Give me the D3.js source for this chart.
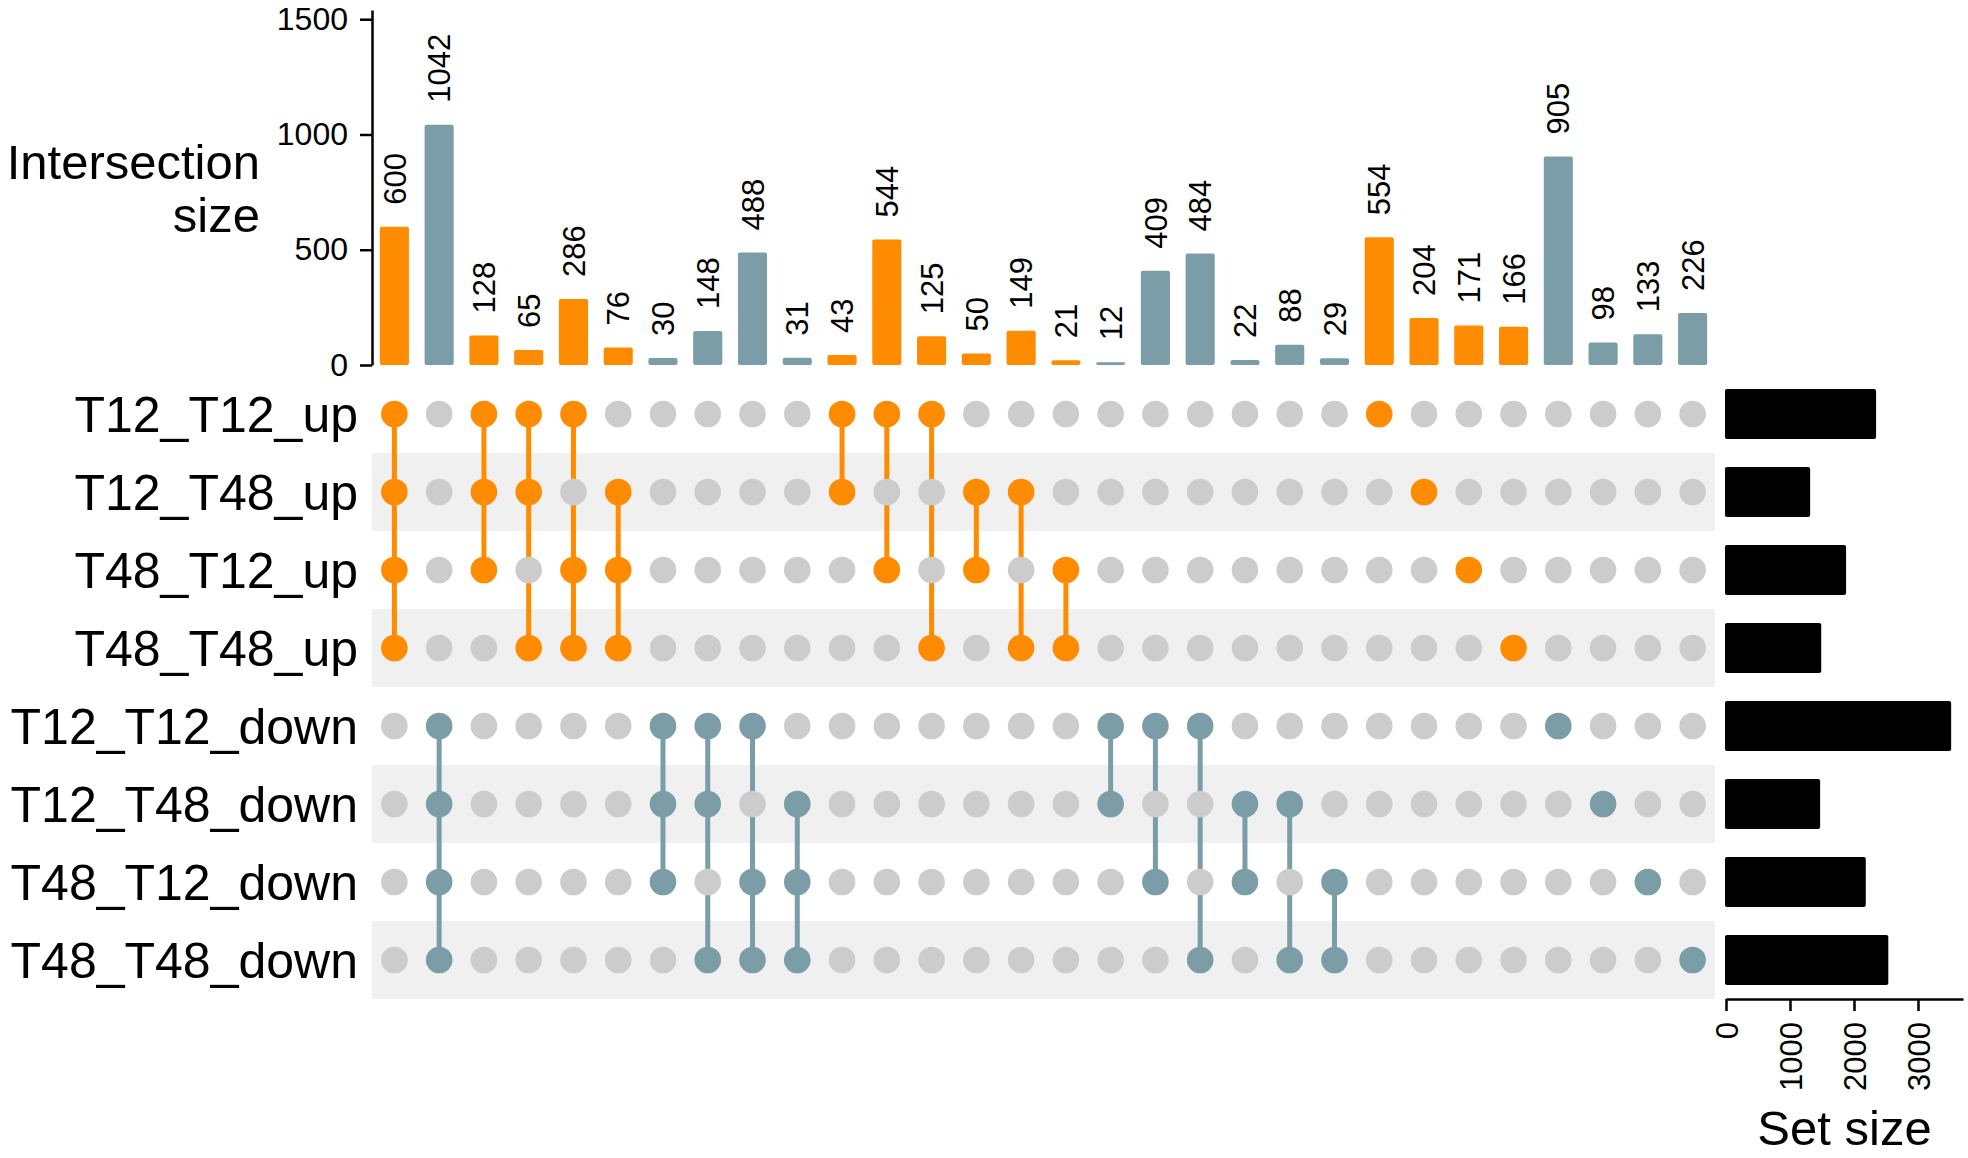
<!DOCTYPE html>
<html>
<head>
<meta charset="utf-8">
<script src="https://cdn.jsdelivr.net/npm/d3@7"></script>
<style>
  body { margin: 0; background: #fff; }
  text { font-family: "Liberation Sans", Arial, sans-serif; }
</style>
</head>
<body>
<div id="vis"></div>
<script>
// upset plot, 8 sets and 30 intersections
const FRAME_WIDTH = 1968;
const FRAME_HEIGHT = 1158;

const sets = ["T12_T12_up", "T12_T48_up", "T48_T12_up", "T48_T48_up",
              "T12_T12_down", "T12_T48_down", "T48_T12_down", "T48_T48_down"];
const setDirection = ["up", "up", "up", "up", "down", "down", "down", "down"];
const setSizes = [2345, 1315, 1876, 1488, 3518, 1471, 2184, 2536];

const intersectionSizes = [600, 1042, 128, 65, 286, 76, 30, 148, 488, 31,
                           43, 544, 125, 50, 149, 21, 12, 409, 484, 22,
                           88, 29, 554, 204, 171, 166, 905, 98, 133, 226];
// which sets (index into sets) are in each intersection
const intersectionMembers = [[0,1,2,3], [4,5,6,7], [0,1,2], [0,1,3], [0,2,3], [1,2,3],
                             [4,5,6], [4,5,7], [4,6,7], [5,6,7],
                             [0,1], [0,2], [0,3], [1,2], [1,3], [2,3],
                             [4,5], [4,6], [4,7], [5,6], [5,7], [6,7],
                             [0], [1], [2], [3], [4], [5], [6], [7]];

const sizeTicks = [0, 500, 1000, 1500];
const setTicks = [0, 1000, 2000, 3000];

const COLORS = {up: "#FF8C00", down: "#7A9DA7", off: "#CCCCCC", band: "#F0F0F0"};

// layout (pixels)
const MATRIX = {left: 372, right: 1715, top: 375, rowStep: 78};
const BARS = {top: 10, bottom: 365};
const SETBARS = {left: 1726, right: 1963, axisY: 999};

const FRAME = d3.select("#vis")
  .append("svg")
  .attr("width", FRAME_WIDTH)
  .attr("height", FRAME_HEIGHT);

const cols = d3.range(intersectionSizes.length);

const X_SCALE = d3.scaleBand()
  .domain(cols)
  .range([MATRIX.left, MATRIX.right])
  .paddingInner(0.35)
  .paddingOuter(0.175);

const Y_SCALE = d3.scaleLinear()
  .domain([0, 1540])
  .range([BARS.bottom, BARS.top]);

const ROW_SCALE = d3.scaleBand()
  .domain(d3.range(sets.length))
  .range([MATRIX.top, MATRIX.top + sets.length * MATRIX.rowStep])
  .paddingInner(0.36)
  .paddingOuter(0.18);

const SET_SCALE = d3.scaleLinear()
  .domain([0, 3703])
  .range([SETBARS.left, SETBARS.right]);

const colX = (i) => X_SCALE(i) + X_SCALE.bandwidth() / 2;
const rowY = (r) => ROW_SCALE(r) + ROW_SCALE.bandwidth() / 2;
const colDir = (i) => setDirection[intersectionMembers[i][0]];

// shaded rows behind the matrix
FRAME.selectAll(".band")
  .data(d3.range(sets.length).filter((r) => r % 2 === 1))
  .enter()
  .append("rect")
    .attr("x", MATRIX.left)
    .attr("width", MATRIX.right - MATRIX.left)
    .attr("y", (r) => rowY(r) - MATRIX.rowStep / 2)
    .attr("height", MATRIX.rowStep)
    .attr("fill", COLORS.band);

// intersection bars
FRAME.selectAll(".bar")
  .data(cols)
  .enter()
  .append("rect")
    .attr("x", (i) => X_SCALE(i))
    .attr("width", X_SCALE.bandwidth())
    .attr("y", (i) => Y_SCALE(intersectionSizes[i]))
    .attr("height", (i) => Y_SCALE(0) - Y_SCALE(intersectionSizes[i]))
    .attr("rx", 2)
    .attr("fill", (i) => COLORS[colDir(i)]);

// bar value labels, rotated
FRAME.selectAll(".barlabel")
  .data(cols)
  .enter()
  .append("text")
    .attr("transform", (i) => "translate(" + colX(i) + "," + (Y_SCALE(intersectionSizes[i]) - 22) + ") rotate(-90)")
    .attr("dy", "0.36em")
    .attr("font-size", "31px")
    .attr("fill", "#000")
    .text((i) => intersectionSizes[i]);

// y axis for intersection size
const yAxis = FRAME.append("g")
  .attr("transform", "translate(" + MATRIX.left + ",0)")
  .call(d3.axisLeft(Y_SCALE).tickValues(sizeTicks).tickFormat(d3.format("d"))
          .tickSize(12).tickSizeOuter(0).tickPadding(12));
yAxis.select(".domain").attr("stroke-width", 2.5);
yAxis.selectAll(".tick line").attr("stroke-width", 2.5);
yAxis.selectAll("text").attr("font-size", "32px").attr("fill", "#000");

FRAME.append("text")
  .attr("x", 260)
  .attr("y", 179)
  .attr("text-anchor", "end")
  .attr("font-size", "49px")
  .selectAll("tspan")
  .data(["Intersection", "size"])
  .enter()
  .append("tspan")
    .attr("x", 260)
    .attr("dy", (d, k) => (k === 0 ? 0 : 53))
    .text((d) => d);

// matrix: connecting lines
FRAME.selectAll(".link")
  .data(cols.filter((i) => intersectionMembers[i].length > 1))
  .enter()
  .append("line")
    .attr("x1", (i) => colX(i))
    .attr("x2", (i) => colX(i))
    .attr("y1", (i) => rowY(d3.min(intersectionMembers[i])))
    .attr("y2", (i) => rowY(d3.max(intersectionMembers[i])))
    .attr("stroke", (i) => COLORS[colDir(i)])
    .attr("stroke-width", 5);

// matrix: dots
const cells = [];
cols.forEach((i) => {
  sets.forEach((s, r) => {
    cells.push({col: i, row: r, on: intersectionMembers[i].includes(r)});
  });
});

FRAME.selectAll(".dot")
  .data(cells)
  .enter()
  .append("circle")
    .attr("cx", (d) => colX(d.col))
    .attr("cy", (d) => rowY(d.row))
    .attr("r", 13.3)
    .attr("fill", (d) => (d.on ? COLORS[colDir(d.col)] : COLORS.off));

// set names
FRAME.selectAll(".setname")
  .data(sets)
  .enter()
  .append("text")
    .attr("x", 358)
    .attr("y", (d, r) => rowY(r))
    .attr("dy", "0.36em")
    .attr("text-anchor", "end")
    .attr("font-size", "50px")
    .text((d) => d);

// set size bars
FRAME.selectAll(".setbar")
  .data(sets)
  .enter()
  .append("rect")
    .attr("x", SET_SCALE(0) - 1)
    .attr("width", (d, r) => SET_SCALE(setSizes[r]) - SET_SCALE(0) + 1)
    .attr("y", (d, r) => rowY(r) - 25)
    .attr("height", 50)
    .attr("rx", 2)
    .attr("fill", "#000");

const xAxis = FRAME.append("g")
  .attr("transform", "translate(0," + SETBARS.axisY + ")")
  .call(d3.axisBottom(SET_SCALE).tickValues(setTicks).tickFormat(d3.format("d"))
          .tickSize(12).tickSizeOuter(0));
xAxis.select(".domain").attr("stroke-width", 2.5);
xAxis.selectAll(".tick line").attr("stroke-width", 2.5);
xAxis.selectAll("text")
  .attr("font-size", "31px")
  .attr("fill", "#000")
  .attr("transform", "rotate(-90)")
  .attr("x", -23)
  .attr("y", 0)
  .attr("dy", "0.36em")
  .attr("text-anchor", "end");

FRAME.append("text")
  .attr("x", (SETBARS.left + SETBARS.right) / 2)
  .attr("y", 1145)
  .attr("text-anchor", "middle")
  .attr("font-size", "49px")
  .text("Set size");
</script>
</body>
</html>
